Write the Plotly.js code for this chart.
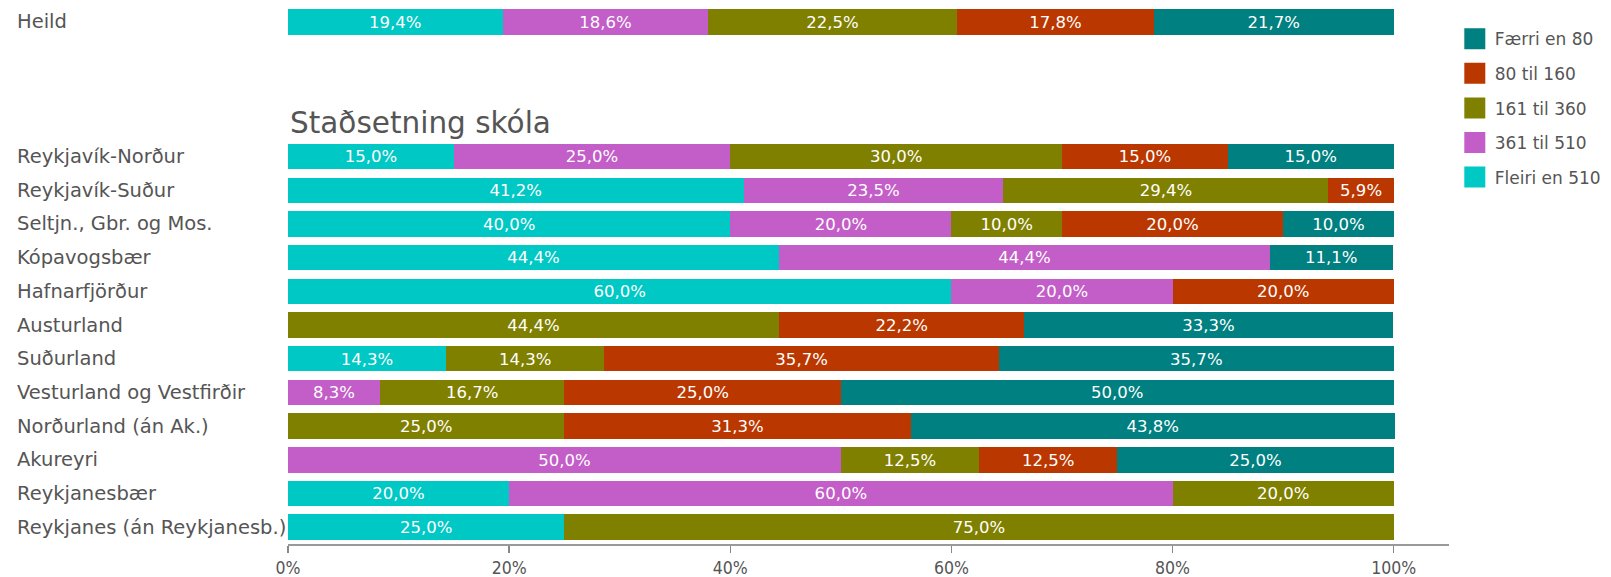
<!DOCTYPE html>
<html><head><meta charset="utf-8">
<script src="https://cdn.plot.ly/plotly-3.0.1.min.js"></script>
<style>html,body{margin:0;padding:0;background:#fff}</style>
</head><body><div id="chart" style="width:1611px;height:577px"></div>
<script>
const categories = ['Heild', ' ', '  ', '   ', 'Reykjavík-Norður', 'Reykjavík-Suður', 'Seltjn., Gbr. og Mos.', 'Kópavogsbær', 'Hafnarfjörður', 'Austurland', 'Suðurland', 'Vesturland og Vestfirðir', 'Norðurland (án Ak.)', 'Akureyri', 'Reykjanesbær', 'Reykjanes (án Reykjanesb.)'];
const sectionTitle = 'Staðsetning skóla';
const sectionRow = '   ';
const seriesNames = ['Fleiri en 510', '361 til 510', '161 til 360', '80 til 160', 'Færri en 80'];
const fleiriEn510 = [19.4, null, null, null, 15.0, 41.2, 40.0, 44.4, 60.0, null, 14.3, null, null, null, 20.0, 25.0];
const til361_510  = [18.6, null, null, null, 25.0, 23.5, 20.0, 44.4, 20.0, null, null, 8.3, null, 50.0, 60.0, null];
const til161_360  = [22.5, null, null, null, 30.0, 29.4, 10.0, null, null, 44.4, 14.3, 16.7, 25.0, 12.5, 20.0, 75.0];
const til80_160   = [17.8, null, null, null, 15.0, 5.9, 20.0, null, 20.0, 22.2, 35.7, 25.0, 31.3, 12.5, null, null];
const faerriEn80  = [21.7, null, null, null, 15.0, null, 10.0, 11.1, null, 33.3, 35.7, 50.0, 43.8, 25.0, null, null];
const xTickVals = [0, 20, 40, 60, 80, 100];
const xTickText = ['0%', '20%', '40%', '60%', '80%', '100%'];
const colors = ['#00C8C5', '#C35DC8', '#808000', '#BA3800', '#008080'];

const FONT = 'DejaVu Sans, sans-serif';
const FONTC = 'DejaVu Sans Condensed, DejaVu Sans, sans-serif';
const TXT = '#555555';
const series = [fleiriEn510, til361_510, til161_360, til80_160, faerriEn80];
const fmt = v => (v == null ? '' : v.toFixed(1).replace('.', ',') + '%');

const traces = [];
series.forEach((vals, i) => {
  traces.push({
    type: 'bar', orientation: 'h',
    y: categories, x: vals,
    name: seriesNames[i],
    marker: {color: colors[i]},
    text: vals.map(fmt), texttemplate: '%{text}',
    textposition: 'inside', insidetextanchor: 'middle',
    insidetextfont: {color: '#ffffff', size: 17, family: FONT},
    hoverinfo: 'skip', showlegend: false, cliponaxis: false
  });
});
// legend entries (bigger squares), listed top-down from "Færri en 80"
for (let i = series.length - 1; i >= 0; i--) {
  traces.push({
    type: 'scatter', mode: 'markers', x: [null], y: [null],
    name: seriesNames[i], legendgroup: 'g' + i,
    marker: {symbol: 'square', size: 16, color: colors[i], line: {color: colors[i], width: 5}},
    showlegend: true, hoverinfo: 'skip'
  });
}

const annotations = categories.filter(c => c.trim() !== '').map(c => ({
  xref: 'paper', yref: 'y', x: -0.235, y: c, xanchor: 'left', yanchor: 'middle',
  text: c, showarrow: false, font: {family: FONT, size: 19.5, color: TXT}
}));
annotations.push({
  xref: 'paper', yref: 'y', x: 0.0, y: sectionRow, xanchor: 'left', yanchor: 'middle',
  text: sectionTitle, showarrow: false, font: {family: FONT, size: 29.5, color: TXT}, xshift: 0
});

const layout = {
  width: 1611, height: 577,
  margin: {l: 288, r: 162, t: 5, b: 33},
  paper_bgcolor: '#ffffff', plot_bgcolor: '#ffffff',
  barmode: 'stack', bargap: 0.245,
  font: {family: FONT, color: TXT, size: 17},
  xaxis: {
    range: [0, 105], tickvals: xTickVals, ticktext: xTickText,
    showgrid: false, zeroline: false, showline: true, linecolor: '#999999', linewidth: 2,
    ticks: 'outside', ticklen: 7, tickwidth: 1.5, tickcolor: '#888888',
    tickfont: {family: FONTC, size: 17.5, color: TXT}, fixedrange: true
  },
  yaxis: {
    type: 'category', categoryarray: categories, categoryorder: 'array',
    autorange: 'reversed', showticklabels: false, showgrid: false, zeroline: false,
    showline: false, ticks: ''
  },
  legend: {
    x: 1.005, xanchor: 'left', y: 0.97, yanchor: 'top', traceorder: 'grouped',
    font: {family: FONT, size: 17, color: TXT}, tracegroupgap: 9.5, bgcolor: 'rgba(0,0,0,0)'
  },
  showlegend: true,
  annotations: annotations
};
Plotly.newPlot('chart', traces, layout, {displayModeBar: false, staticPlot: true});
</script></body></html>
